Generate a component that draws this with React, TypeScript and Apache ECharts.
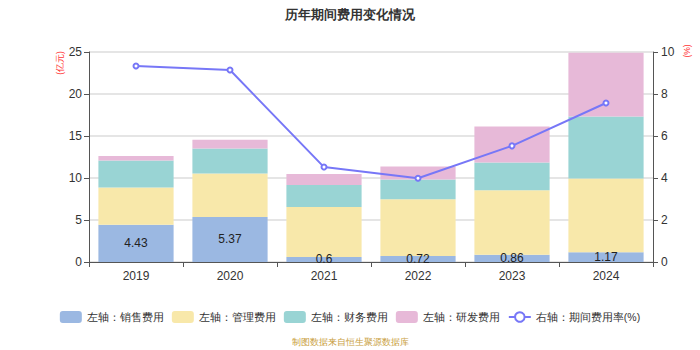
import React, { useEffect, useRef } from "react";
import * as echarts from "echarts";

const years = ["2019", "2020", "2021", "2022", "2023", "2024"];
const salesExp = [4.43, 5.37, 0.6, 0.72, 0.86, 1.17];
const adminExp = [4.43, 5.16, 5.96, 6.75, 7.68, 8.76];
const financeExp = [3.22, 2.98, 2.62, 2.34, 3.3, 7.39];
const rdExp = [0.55, 1.03, 1.31, 1.55, 4.29, 7.59];
const expRate = [9.33, 9.14, 4.52, 3.99, 5.53, 7.57];

const leftTicks = { min: 0, max: 25, interval: 5 };
const rightTicks = { min: 0, max: 10, interval: 2 };

export default function App() {
  const ref = useRef<HTMLDivElement>(null);
  useEffect(() => {
    if (!ref.current) return;
    document.body.style.margin = "0";
    const chart = echarts.init(ref.current, null, { renderer: "svg" });
    const barBase = {
      type: "bar",
      stack: "total",
      barCategoryGap: "20%",
      yAxisIndex: 0,
    };
    chart.setOption({
      animation: false,
      title: {
        text: "历年期间费用变化情况",
        left: "center",
        top: 3,
        textStyle: { fontSize: 13, fontWeight: "bold", color: "#333" },
      },
      grid: { left: 89, right: 47, top: 52, bottom: 88 },
      legend: {
        bottom: 22,
        left: "center",
        itemWidth: 22,
        itemHeight: 12,
        itemGap: 8,
        textStyle: { fontSize: 10.5, color: "#333" },
        data: [
          { name: "左轴：销售费用", icon: "roundRect" },
          { name: "左轴：管理费用", icon: "roundRect" },
          { name: "左轴：财务费用", icon: "roundRect" },
          { name: "左轴：研发费用", icon: "roundRect" },
          { name: "右轴：期间费用率(%)" },
        ],
      },
      graphic: [
        {
          type: "text",
          x: 60,
          y: 63,
          rotation: Math.PI / 2,
          style: {
            text: "(亿元)",
            fill: "#ff3333",
            fontSize: 8.5,
            align: "center",
            verticalAlign: "middle",
          },
        },
        {
          type: "text",
          x: 687,
          y: 51,
          rotation: Math.PI / 2,
          style: {
            text: "(%)",
            fill: "#ff3333",
            fontSize: 8.5,
            align: "center",
            verticalAlign: "middle",
          },
        },
        {
          type: "text",
          x: 350,
          y: 342,
          style: {
            text: "制图数据来自恒生聚源数据库",
            fill: "#c9a040",
            fontSize: 8.5,
            align: "center",
            verticalAlign: "middle",
          },
        },
      ],
      xAxis: {
        type: "category",
        data: years,
        axisLine: { lineStyle: { color: "#555" } },
        axisTick: { show: true, alignWithLabel: false },
        axisLabel: { color: "#333", fontSize: 12 },
      },
      yAxis: [
        {
          type: "value",
          ...leftTicks,
          axisLine: { show: true, lineStyle: { color: "#555" } },
          axisTick: { show: true },
          axisLabel: { color: "#333", fontSize: 12, margin: 7 },
          splitLine: { lineStyle: { color: "#dddddd", width: 1.5 } },
        },
        {
          type: "value",
          ...rightTicks,
          axisLine: { show: true, lineStyle: { color: "#555" } },
          axisTick: { show: true },
          axisLabel: { color: "#333", fontSize: 12 },
          splitLine: { show: false },
        },
      ],
      series: [
        {
          ...barBase,
          name: "左轴：销售费用",
          data: salesExp,
          itemStyle: { color: "#9bb8e2" },
          label: { show: true, position: "inside", color: "#222", fontSize: 12 },
        },
        {
          ...barBase,
          name: "左轴：管理费用",
          data: adminExp,
          itemStyle: { color: "#f8e8aa" },
        },
        {
          ...barBase,
          name: "左轴：财务费用",
          data: financeExp,
          itemStyle: { color: "#99d4d4" },
        },
        {
          ...barBase,
          name: "左轴：研发费用",
          data: rdExp,
          itemStyle: { color: "#e7b9d8" },
        },
        {
          type: "line",
          name: "右轴：期间费用率(%)",
          yAxisIndex: 1,
          data: expRate,
          symbol: "emptyCircle",
          symbolSize: 5,
          lineStyle: { color: "#7777f7", width: 2 },
          itemStyle: { color: "#7777f7" },
        },
      ],
    });
    return () => chart.dispose();
  }, []);
  return <div ref={ref} style={{ width: 700, height: 350 }} />;
}
